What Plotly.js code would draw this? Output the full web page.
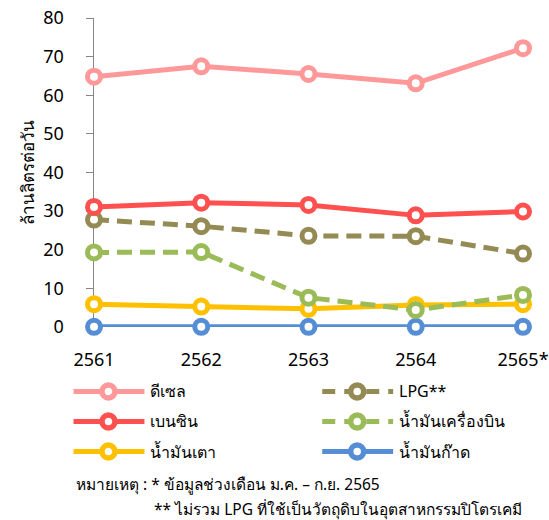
<!DOCTYPE html>
<html><head><meta charset="utf-8">
<script src="https://cdn.plot.ly/plotly-3.0.1.min.js"></script>
<style>body{margin:0;padding:0;background:#fff}#chart{width:549px;height:520px}</style>
</head><body><div id="chart"></div>
<script>
const years = ['2561', '2562', '2563', '2564', '2565*'];
const diesel = [64.8, 67.5, 65.5, 63.1, 72.2];
const benzin = [31.1, 32.2, 31.6, 28.9, 29.9];
const lpg = [27.8, 26.1, 23.6, 23.5, 19.0];
const jet = [19.3, 19.4, 7.6, 4.4, 8.3];
const fuelOil = [5.9, 5.3, 4.7, 5.7, 5.9];
const kerosene = [0.05, 0.05, 0.05, 0.05, 0.05];
const names = ['ดีเซล', 'LPG**', 'เบนซิน', 'น้ำมันเครื่องบิน', 'น้ำมันเตา', 'น้ำมันก๊าด'];
const yTicks = [0, 10, 20, 30, 40, 50, 60, 70, 80];
const yTitle = 'ล้านลิตรต่อวัน';
const note1 = 'หมายเหตุ : * ข้อมูลช่วงเดือน ม.ค. – ก.ย. 2565';
const note2 = '** ไม่รวม LPG ที่ใช้เป็นวัตถุดิบในอุตสาหกรรมปิโตรเคมี';

const series = [diesel, lpg, benzin, jet, fuelOil, kerosene];
const colors = ['#FF9999', '#948A54', '#FF5050', '#9BBB59', '#FFC000', '#558ED5'];
const dashed = [false, true, false, true, false, false];
const font = '"Noto Sans", "DejaVu Sans", sans-serif';

// plot area geometry (pixels)
const W = 549, H = 520, L = 93.5, R = 26, T = 18.3, B = 193.3;
const pw = W - L - R, ph = H - T - B;
const px = v => (v - L) / pw;
const py = v => (H - B - v) / ph;

const drawOrder = [5, 4, 3, 1, 2, 0];
const traces = drawOrder.map(i => ({
  x: years, y: series[i], name: names[i], type: 'scatter', mode: 'lines+markers',
  cliponaxis: false, showlegend: false,
  line: {color: colors[i], width: 5, dash: dashed[i] ? '15px,8px' : 'solid'},
  marker: {size: 13, color: '#ffffff', line: {color: colors[i], width: 5}}
}));

// custom legend (two columns, three rows)
const shapes = [], annotations = [];
const colX = [73, 322], rowY = [391, 421, 451];
names.forEach((n, i) => {
  const c = i % 2, r = Math.floor(i / 2);
  const x0 = colX[c], yc = rowY[r];
  shapes.push({type: 'line', xref: 'paper', yref: 'paper', x0: px(x0), x1: px(x0 + 71),
    y0: py(yc), y1: py(yc), line: {color: colors[i], width: 5, dash: dashed[i] ? '13px,9px' : 'solid'}});
  const cx = x0 + 35, rr = 6.5;
  shapes.push({type: 'circle', xref: 'paper', yref: 'paper', x0: px(cx - rr), x1: px(cx + rr),
    y0: py(yc + rr), y1: py(yc - rr), fillcolor: '#ffffff', line: {color: colors[i], width: 5.5}});
  annotations.push({xref: 'paper', yref: 'paper', x: px(x0 + 75), y: py(yc), xanchor: 'left', yanchor: 'middle',
    text: n, showarrow: false, font: {size: 16, family: font, color: '#000'}});
});
annotations.push({xref: 'paper', yref: 'paper', x: px(73), y: py(483), xanchor: 'left', yanchor: 'middle',
  text: note1, showarrow: false, font: {size: 15.5, family: font, color: '#000'}});
annotations.push({xref: 'paper', yref: 'paper', x: px(152), y: py(508.5), xanchor: 'left', yanchor: 'middle',
  text: note2, showarrow: false, font: {size: 15.5, family: font, color: '#000'}});

const layout = {
  width: W, height: H,
  margin: {l: L, r: R, t: T, b: B, autoexpand: false},
  paper_bgcolor: '#fff', plot_bgcolor: '#fff',
  font: {family: font, color: '#000', size: 15},
  showlegend: false,
  xaxis: {type: 'category', range: [0, 4], showgrid: false, zeroline: false,
    showline: false, ticks: '', ticklabelstandoff: 20,
    tickfont: {size: 18, family: font}},
  yaxis: {range: [0, 80], tickvals: yTicks, showgrid: false, zeroline: false,
    showline: true, linecolor: '#868686', linewidth: 1.5, ticks: 'outside', ticklen: 7,
    tickcolor: '#868686', tickfont: {size: 18, family: font}, ticklabelstandoff: 18,
    layer: 'below traces',
    title: {text: yTitle, font: {size: 17, family: font}, standoff: 4}},
  shapes: shapes,
  annotations: annotations
};
Plotly.newPlot('chart', traces, layout, {displayModeBar: false, staticPlot: true});
</script></body></html>
